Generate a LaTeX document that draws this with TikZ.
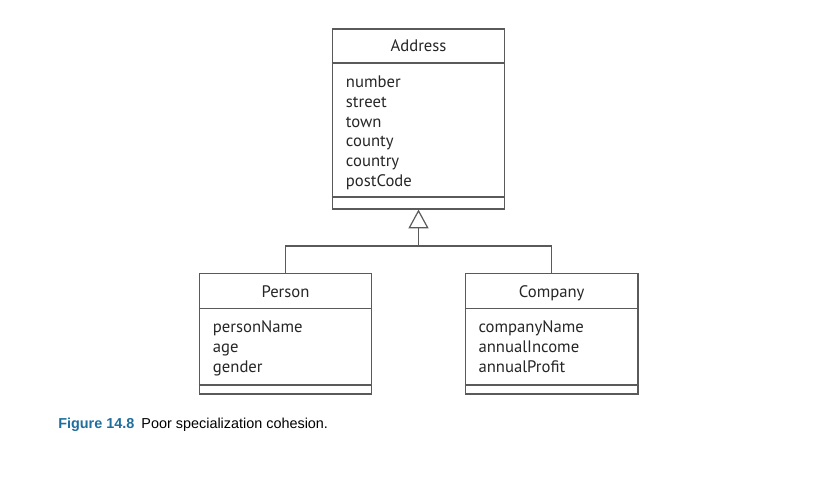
\documentclass[tikz,border=0pt]{standalone}
\usepackage{fontspec}
\setmainfont{PT Sans}
\newfontfamily\capfont{Liberation Sans}
\usepackage{tikz}
\usetikzlibrary{arrows.meta,positioning,calc}
\definecolor{linegray}{HTML}{5A5A5A}
\definecolor{textgray}{HTML}{262626}
\definecolor{capblue}{HTML}{1F6E9C}

\begin{document}
\begin{tikzpicture}[x=0.75pt, y=-0.75pt,
        mclass/.style = {draw = linegray, line width = 0.9pt, inner sep = 0pt, minimum width = 129.4pt},
        mname/.style = {text = textgray, font = \fontsize{12.5}{14}\selectfont, anchor = base},
        mattr/.style = {text = textgray, font = \fontsize{12.5}{14}\selectfont, anchor = base west, inner sep = 0pt},
        mline/.style = {linegray, line width = 0.9pt},
        marrow/.style = {arrows = {-{Triangle[open, length=14pt, width=15pt]}}, linegray, line width = 0.9pt}
        ]
        \useasboundingbox (0,0) rectangle (816,490);

        \node[mclass, minimum height = 135pt] (address) at (418.5,119) {};
        \node[mclass, minimum height = 90.5pt] (person) at (285.5,333.7) {};
        \node[mclass, minimum height = 90.5pt] (company) at (551.7,333.7) {};

        % compartments
        \foreach \b/\h/\f in {address/25.9/9.4, person/26.8/7.3, company/26.8/7.3}{
            \draw[mline] ([yshift=-\h pt]\b.north west) -- ([yshift=-\h pt]\b.north east);
            \draw[mline] ([yshift=\f pt]\b.south west) -- ([yshift=\f pt]\b.south east);
        }

        \node[mname] (addressname) at (418.5,51) {Address};
        \node[mname] (personname) at (285.5,297) {Person};
        \node[mname] (companyname) at (551.7,297) {Company};

        \foreach \t [count=\i] in {number,street,town,county,country,postCode}
            \node[mattr] (addr\i) at (345.7,{68.2+19.65*\i}) {\t};
        \foreach \t [count=\i] in {personName,age,gender}
            \node[mattr] (pers\i) at (212.7,{312.7+19.8*\i}) {\t};
        \foreach \t [count=\i] in {companyName,annualIncome,annualProfit}
            \node[mattr] (comp\i) at (478.3,{312.7+19.8*\i}) {\t};

        \coordinate (join) at (418.5,246);
        \draw[mline] (person.north) |- (join) -| (company.north);
        \draw[marrow] (join) -- (address.south);

        \node[anchor = base west, inner sep = 0pt, font = \capfont\fontsize{10.8}{12}\selectfont] (caption) at (58,428)
            {\textcolor{capblue}{\bfseries Figure 14.8}\enspace Poor specialization cohesion.};

    \end{tikzpicture}
\end{document}
